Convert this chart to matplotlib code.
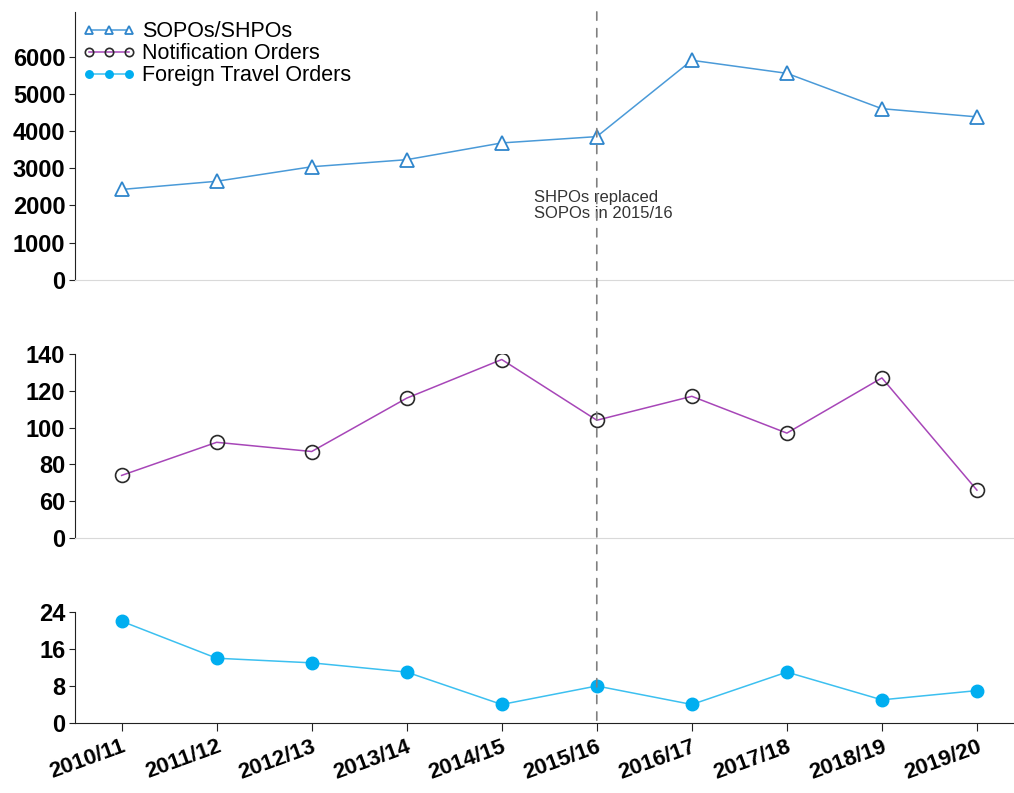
import matplotlib.pyplot as plt
from matplotlib.patches import ConnectionPatch

plt.rcParams['font.family'] = ['Liberation Sans', 'DejaVu Sans']

years = ['2010/11', '2011/12', '2012/13', '2013/14', '2014/15',
         '2015/16', '2016/17', '2017/18', '2018/19', '2019/20']
sopo_shpo = [2430, 2650, 3040, 3230, 3680, 3850, 5900, 5550, 4600, 4380]
notification = [74, 92, 87, 116, 137, 104, 117, 97, 127, 66]
foreign_travel = [22, 14, 13, 11, 4, 8, 4, 11, 5, 7]

top_ticks = [0, 1000, 2000, 3000, 4000, 5000, 6000]
mid_ticks = [40, 60, 80, 100, 120, 140]
mid_labels = ['0', '60', '80', '100', '120', '140']
bot_ticks = [0, 8, 16, 24]

x = list(range(len(years)))

fig = plt.figure(figsize=(10.14, 7.93), dpi=100)
ax1 = fig.add_axes([0.074, 0.647, 0.926, 0.338])
ax2 = fig.add_axes([0.074, 0.3216, 0.926, 0.232])
ax3 = fig.add_axes([0.074, 0.0883, 0.926, 0.140])

l1, = ax1.plot(x, sopo_shpo, color='#4a9ad8', lw=1.1, marker='^', ms=10,
               mfc='white', mec='#2f86cc', mew=1.3, label='SOPOs/SHPOs')
l2, = ax2.plot(x, notification, color='#a746b8', lw=1.1, marker='o', ms=10,
               mfc='none', mec='#2a2a2a', mew=1.2, label='Notification Orders')
l3, = ax3.plot(x, foreign_travel, color='#3cc0f0', lw=1.1, marker='o', ms=9,
               mfc='#00aef0', mec='#00aef0', label='Foreign Travel Orders')

ax1.set_ylim(0, 7200)
ax1.set_yticks(top_ticks)
ax2.set_ylim(40, 140)
ax2.set_yticks(mid_ticks)
ax2.set_yticklabels(mid_labels)
ax3.set_ylim(0, 24)
ax3.set_yticks(bot_ticks)

for ax in (ax1, ax2, ax3):
    ax.set_xlim(-0.49, 9.39)
    ax.set_xticks(x)
    ax.spines['top'].set_visible(False)
    ax.spines['right'].set_visible(False)
    ax.spines['left'].set_color('#222222')
    ax.tick_params(axis='y', direction='out', length=4, color='#222222',
                   labelsize=17, pad=3)
    for lab in ax.get_yticklabels():
        lab.set_fontweight('bold')

for ax in (ax1, ax2):
    ax.spines['bottom'].set_color('#d9d9d9')
    ax.tick_params(axis='x', bottom=False, labelbottom=False)

ax3.spines['bottom'].set_color('#222222')
ax3.set_xticklabels(years, rotation=20, ha='right', rotation_mode='anchor',
                    fontsize=16, fontweight='bold')
ax3.tick_params(axis='x', direction='out', length=6, color='#222222')

ax1.legend(handles=[l1, l2, l3], loc='upper left', bbox_to_anchor=(-0.004, 1.005),
           frameon=False, numpoints=3, fontsize=15.5, handlelength=2.5,
           handletextpad=0.3, labelspacing=0.05, markerscale=0.6,
           borderaxespad=0.2, borderpad=0.3)

ax1.text(4.34, 2000, 'SHPOs replaced\nSOPOs in 2015/16', fontsize=12,
         color='#333333', ha='left', va='center', linespacing=1.15)

con = ConnectionPatch(xyA=(5, 7200), coordsA='data', axesA=ax1,
                      xyB=(5, 0), coordsB='data', axesB=ax3,
                      color='#808080', lw=1.2, linestyle=(0, (5, 5)))
fig.add_artist(con)

fig.savefig('out.png', dpi=100)
